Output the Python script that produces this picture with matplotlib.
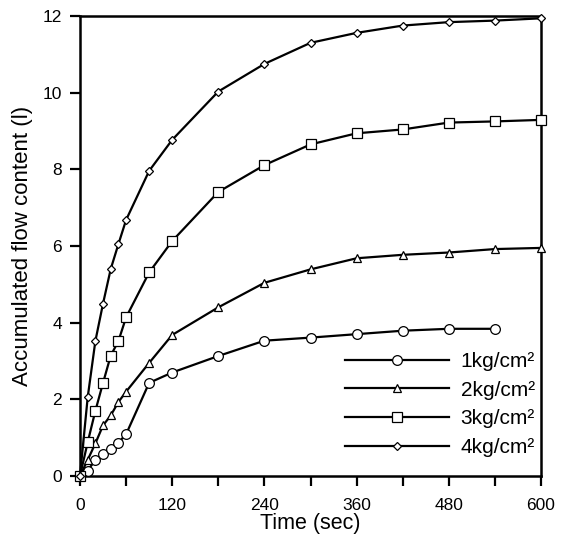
import numpy as np
import matplotlib.pyplot as plt

plt.rcParams['font.family'] = ['Liberation Sans', 'DejaVu Sans']

# ------------------ DATA ------------------
t = [0, 10, 20, 30, 40, 50, 60, 90, 120, 180, 240, 300, 360, 420, 480, 540, 600]

flow_1 = [0, 0.14, 0.42, 0.57, 0.70, 0.87, 1.09, 2.43, 2.70, 3.13, 3.53, 3.61, 3.70, 3.79, 3.84, 3.84]
flow_2 = [0, 0.42, 0.85, 1.32, 1.58, 1.93, 2.20, 2.95, 3.68, 4.40, 5.04, 5.39, 5.68, 5.77, 5.83, 5.92, 5.95]
flow_3 = [0, 0.88, 1.70, 2.43, 3.14, 3.52, 4.14, 5.31, 6.13, 7.41, 8.11, 8.65, 8.94, 9.04, 9.22, 9.25, 9.29]
flow_4 = [0, 2.05, 3.52, 4.50, 5.40, 6.05, 6.68, 7.96, 8.77, 10.03, 10.75, 11.30, 11.56, 11.75, 11.84, 11.88, 11.94]

labels = ['1kg/cm²', '2kg/cm²', '3kg/cm²', '4kg/cm²']
markers = ['o', '^', 's', 'D']
msizes = [7, 6, 7.5, 4.5]

# ------------------ PLOT ------------------
fig = plt.figure(figsize=(5.62, 5.38), dpi=100)
ax = fig.add_axes([80 / 562, 1 - 476 / 538, 461 / 562, 460 / 538])

for ys, lab, mk, ms in zip([flow_1, flow_2, flow_3, flow_4], labels, markers, msizes):
    ax.plot(t[:len(ys)], ys, color='black', lw=1.6, marker=mk, markersize=ms,
            markerfacecolor='white', markeredgecolor='black', markeredgewidth=0.9,
            label=lab, clip_on=False, zorder=3)

ax.set_xlim(0, 600)
ax.set_ylim(0, 12)
ax.set_xticks(np.arange(0, 601, 60))
ax.set_xticklabels([str(v) if v % 120 == 0 else '' for v in range(0, 601, 60)])
ax.set_yticks(np.arange(0, 13, 2))

for s in ax.spines.values():
    s.set_linewidth(1.8)
ax.tick_params(direction='out', length=7, width=1.6, labelsize=12.5, pad=6)
ax.tick_params(axis='x', pad=9)

ax.set_xlabel("Time (sec)", fontsize=15.5, labelpad=0)
ax.set_ylabel("Accumulated flow content (l)", fontsize=16, labelpad=7)

ax.legend(loc='upper left', bbox_to_anchor=(0.575, 0.27), frameon=False,
          fontsize=15, handlelength=5.0, labelspacing=0.47, handletextpad=0.55,
          borderaxespad=0, borderpad=0)

fig.savefig("out.png", dpi=100)
